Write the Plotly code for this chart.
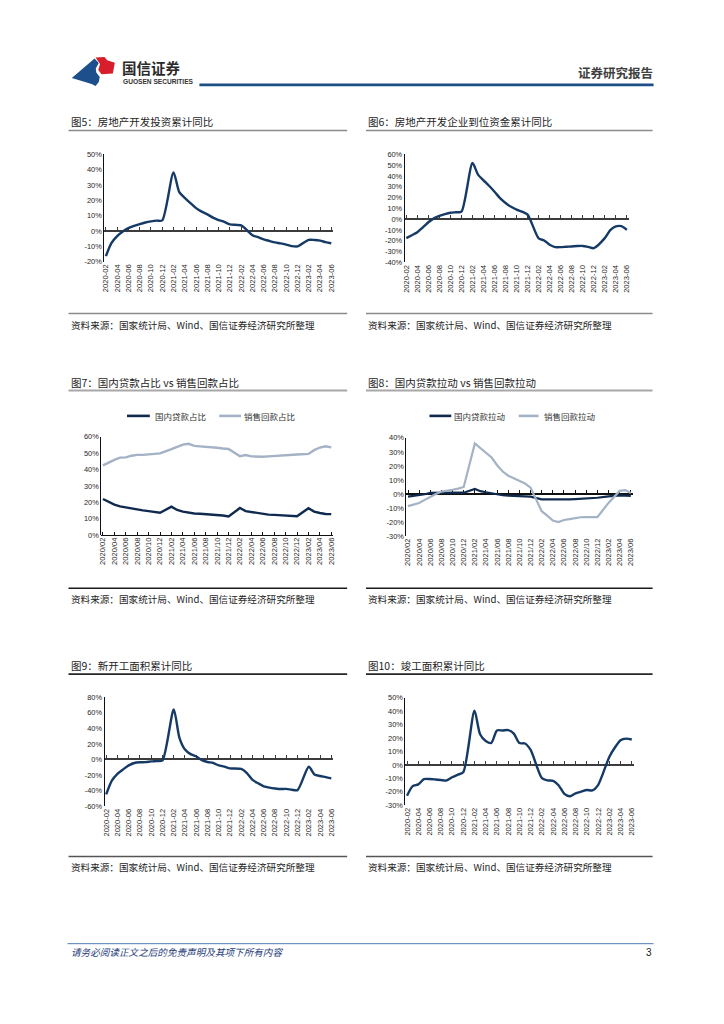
import plotly.graph_objects as go

# page offset: the browser page body has an 8px margin
OX, OY = 8, 8
W, H = 724, 1024
FW, FH = W - OX, H - OY
def fx(x): return (x - OX) / FW
def fy(y): return 1 - (y - OY) / FH

# ---------------- categories ----------------
months = []
for yr in range(2020, 2024):
    for m in range(1, 13):
        if (2020, 2) <= (yr, m) <= (2023, 6):
            months.append((yr, m))
idx = list(range(len(months)))
labels_dash = [f"{y}-{m:02d}" for y, m in months]
labels_slash = [f"{y}/{m:02d}" for y, m in months]
tick_idx = idx[::2]

# ---------------- series (None = January, not published) ----------------
inv_yoy = [-16.3, -7.7, -3.3, -0.3, 1.9, 3.4, 4.6, 5.6, 6.3, 6.8, 7.0, None,
           38.3, 25.6, 21.6, 18.3, 15.0, 12.7, 10.9, 8.8, 7.2, 6.0, 4.4, None,
           3.7, 0.7, -2.7, -4.0, -5.4, -6.4, -7.4, -8.0, -8.8, -9.8, -10.0, None,
           -5.7, -5.8, -6.2, -7.2, -7.9]
funds_yoy = [-17.5, -14.8, -12.0, -7.5, -2.8, 0.8, 3.2, 4.8, 6.0, 6.5, 7.0, None,
             52.0, 41.3, 36.0, 31.0, 25.5, 19.5, 15.0, 11.5, 9.0, 7.0, 4.3, None,
             -17.7, -19.6, -23.6, -25.8, -25.8, -25.5, -25.2, -24.8, -24.7, -25.6, -26.8, None,
             -17.5, -10.0, -6.6, -6.4, -9.8]
loan_share = [22.0, 20.2, 18.6, 17.5, 16.8, 16.2, 15.6, 15.1, 14.6, 14.1, 13.6, None,
              17.3, 15.3, 14.3, 13.6, 13.2, 13.0, 12.8, 12.6, 12.3, 11.9, 11.4, None,
              16.5, 14.6, 14.0, 13.3, 12.8, 12.5, 12.3, 12.1, 11.9, 11.7, 11.5, None,
              16.4, 14.3, 13.5, 12.9, 12.8]
sales_share = [42.6, 44.5, 46.0, 47.3, 47.5, 48.5, 49.0, 49.0, 49.2, 49.3, 49.9, None,
               52.5, 53.8, 55.3, 55.8, 54.5, 54.2, 54.0, 53.6, 53.4, 52.9, 52.6, None,
               48.2, 48.9, 48.1, 47.9, 47.9, 48.1, 48.4, 48.7, 48.9, 49.0, 49.2, None,
               49.6, 51.9, 53.5, 54.3, 53.6]
loan_pull = [-1.9, -1.4, -1.0, -0.2, 0.8, 0.9, 0.9, 0.9, 0.9, 0.9, 0.9, None,
             3.6, 2.0, 1.2, 0.5, -0.4, -0.9, -1.2, -1.4, -1.6, -1.7, -1.9, None,
             -3.9, -4.0, -4.0, -4.1, -4.0, -3.9, -3.7, -3.5, -3.3, -3.0, -2.7, None,
             -1.7, -1.2, -1.0, -1.2, -1.4]
sales_pull = [-8.7, -7.8, -6.4, -4.2, -2.0, 0.0, 1.7, 2.6, 3.0, 3.8, 5.0, None,
              36.0, 32.5, 29.5, 26.0, 20.5, 16.0, 13.0, 11.0, 9.5, 7.5, 4.5, None,
              -12.3, -15.5, -19.0, -20.0, -18.6, -18.0, -17.2, -16.6, -16.5, -16.5, -16.5, None,
              -6.4, -2.0, 2.2, 2.8, 0.7]
newstart_yoy = [-44.9, -27.2, -18.4, -12.8, -7.6, -4.5, -3.6, -3.4, -2.5, -2.0, -1.2, None,
                64.3, 28.2, 12.8, 6.9, 3.8, -0.9, -3.2, -4.5, -7.7, -9.1, -11.4, None,
                -12.2, -17.5, -26.3, -30.6, -34.4, -36.1, -37.2, -38.0, -37.8, -38.9, -39.4, None,
                -9.4, -19.2, -21.2, -22.6, -24.3]
complete_yoy = [-22.9, -15.8, -14.5, -10.6, -10.5, -10.8, -11.2, -11.6, -9.2, -7.3, -5.5, None,
                40.4, 22.9, 17.9, 16.4, 25.7, 25.7, 26.0, 23.4, 16.3, 16.0, 11.2, None,
                -9.8, -11.5, -11.9, -15.3, -21.5, -23.3, -21.1, -19.9, -18.7, -19.0, -15.0, None,
                6.0, 13.0, 18.4, 19.6, 19.0]

NAVY = "#163a66"
DARK = "#0f2a4e"
LIGHT = "#a3b2c4"

CJK = "Noto Sans CJK SC"
LAT = "Liberation Sans"
SRC = "资料来源：国家统计局、Wind、国信证券经济研究所整理"

charts = [
    dict(title="图5：房地产开发投资累计同比", col=0, row=0, box=(102, 333, 151.7, 260), yr=(-20, 50, 10),
         labels=labels_dash, series=[("房地产开发投资累计同比", inv_yoy, NAVY, 2.4, "spline")],
         zc="#3c3c3c", zw=2),
    dict(title="图6：房地产开发企业到位资金累计同比", col=1, row=0, box=(405, 631, 151.7, 260.7), yr=(-40, 60, 10),
         labels=labels_dash, series=[("到位资金累计同比", funds_yoy, NAVY, 2.4, "spline")],
         zc="#3c3c3c", zw=2),
    dict(title="图7：国内贷款占比 vs 销售回款占比", col=0, row=1, box=(99, 333, 436.7, 535.7), yr=(0, 60, 10),
         labels=labels_slash, series=[("国内贷款占比", loan_share, DARK, 2.4, "linear"),
                                      ("销售回款占比", sales_share, LIGHT, 2.4, "linear")],
         zc="#111111", zw=1.2,
         legend=[(125, 148, 153), (218, 240, 243)]),
    dict(title="图8：国内贷款拉动 vs 销售回款拉动", col=1, row=1, box=(406.7, 635, 437.7, 536.7), yr=(-30, 40, 10),
         labels=labels_slash, series=[("国内贷款拉动", loan_pull, DARK, 2.2, "linear"),
                                      ("销售回款拉动", sales_pull, LIGHT, 2.2, "linear")],
         zc="#111111", zw=1.5,
         legend=[(430, 452, 455), (520, 540, 545)]),
    dict(title="图9：新开工面积累计同比", col=0, row=2, box=(102.3, 333, 699.3, 809.3), yr=(-60, 80, 20),
         labels=labels_dash, series=[("新开工面积累计同比", newstart_yoy, NAVY, 2.4, "spline")],
         zc="#3c3c3c", zw=2),
    dict(title="图10：竣工面积累计同比", col=1, row=2, box=(405.7, 636, 700, 808.3), yr=(-30, 50, 10),
         labels=labels_dash, series=[("竣工面积累计同比", complete_yoy, NAVY, 2.4, "spline")],
         zc="#3c3c3c", zw=2),
]

col_x = [(68, 347), (368, 655)]
rows = [
    dict(title=118, uline=127.5, ucol="#8c8c8c", uw=1.6, legend=None, sline=312.3, scol="#8c8c8c", text=324),
    dict(title=381.5, uline=390, ucol="#a8a8a8", uw=2.0, legend=415.5, sline=589.3, scol="#1a1a1a", text=600.5),
    dict(title=667.7, uline=676, ucol="#262626", uw=1.6, legend=None, sline=860, scol="#555555", text=871),
]

PAD = 2  # annotation box padding

fig = go.Figure()
layout = dict(width=FW, height=FH, margin=dict(l=0, r=0, t=0, b=0), autosize=False,
              paper_bgcolor="white", plot_bgcolor="rgba(0,0,0,0)", showlegend=False,
              font=dict(family=LAT, color="#222"))
shapes, annots = [], []
xr = [-0.3, 40.35]

def note(text, x, y, size, color, family=CJK, anchor="left"):
    xx = x - PAD if anchor == "left" else x + PAD
    annots.append(dict(text=text, x=fx(xx), y=fy(y), xref="paper", yref="paper",
                       xanchor=anchor, yanchor="middle", showarrow=False,
                       font=dict(family=family, size=size, color=color)))

def hline(x0, x1, y, color, width):
    shapes.append(dict(type="line", xref="paper", yref="paper", x0=fx(x0), x1=fx(x1),
                       y0=fy(y), y1=fy(y), line=dict(color=color, width=width)))

for k, c in enumerate(charts, start=1):
    l, r, t, b = c["box"]
    ymin, ymax, dy = c["yr"]
    y0px = t + (ymax - 0) / (ymax - ymin) * (b - t)
    yt = list(range(ymin, ymax + 1, dy))
    layout[f"xaxis{k}"] = dict(domain=[fx(l), fx(r)], anchor=f"y{k}", range=xr,
                               tickmode="array", tickvals=tick_idx,
                               ticktext=[c["labels"][i] for i in tick_idx],
                               tickangle=-90, showline=False, ticks="", showgrid=False,
                               zeroline=False, tickfont=dict(family=LAT, size=7.6, color="#1e1e1e"))
    layout[f"xaxis{k+6}"] = dict(overlaying=f"x{k}", anchor="free", position=fy(y0px), range=xr,
                                 tickmode="array", tickvals=tick_idx, ticks="inside", ticklen=3,
                                 tickwidth=1, tickcolor=c["zc"], showline=True, linecolor=c["zc"],
                                 linewidth=c["zw"], showticklabels=False, showgrid=False,
                                 zeroline=False, layer="below traces")
    layout[f"yaxis{k}"] = dict(domain=[fy(b), fy(t)], anchor=f"x{k}", range=[ymin, ymax],
                               tickmode="array", tickvals=yt, ticktext=[f"{v}%" for v in yt],
                               showline=True, linecolor="#111", linewidth=1, ticks="",
                               showgrid=False, zeroline=False,
                               tickfont=dict(family=LAT, size=7.4, color="#1e1e1e"))
    fig.add_trace(go.Scatter(x=[None], y=[None], xaxis=f"x{k}", yaxis=f"y{k}",
                             showlegend=False, hoverinfo="skip"))
    for name, vals, color, w, shape in c["series"]:
        line = dict(color=color, width=w, shape=shape)
        if shape == "spline":
            line["smoothing"] = 0.7
        fig.add_trace(go.Scatter(x=idx, y=vals, mode="lines", name=name, line=line,
                                 connectgaps=True, xaxis=f"x{k+6}", yaxis=f"y{k}"))

    rw = rows[c["row"]]
    x0, x1 = col_x[c["col"]]
    note(c["title"], x0, rw["title"], 10.5, "#1e1e1e")
    hline(x0 - 2, x1, rw["uline"], rw["ucol"], rw["uw"])
    hline(x0 - 2, x1, rw["sline"], rw["scol"], 1.5)
    note(SRC, x0, rw["text"], 9.6, "#1e1e1e")
    if "legend" in c:
        ly = rw["legend"]
        for (lx0, lx1, tx), (name, vals, color, w, shape) in zip(c["legend"], c["series"]):
            hline(lx0, lx1, ly, color, 2.6)
            note(name, tx, ly, 8.5, "#333")

# ---------------- header ----------------
def path(pts):
    return "M " + " L ".join(f"{fx(x):.5f},{fy(y):.5f}" for x, y in pts) + " Z"

blue_pts = [(69.3, 74.5), (92.3, 55), (96.5, 59.5), (93.5, 65), (94.0, 69), (97.5, 73.5),
            (96.5, 78.5), (93.3, 82.7), (89.3, 80.7)]
red_pts = [(93.3, 54), (102.3, 53.3), (105, 56.7), (112.7, 59.3), (110.7, 70), (99.3, 70.7),
           (96.0, 66.5), (97.8, 60.5)]
shapes.append(dict(type="path", xref="paper", yref="paper", path=path(blue_pts),
                   fillcolor="#1d4f8c", line=dict(width=0)))
shapes.append(dict(type="path", xref="paper", yref="paper", path=path(red_pts),
                   fillcolor="#d81e2b", line=dict(width=0)))
note("<b>国信证券</b>", 120, 64.5, 14.5, "#2a2a2a")
note("<b>GUOSEN SECURITIES</b>", 120.5, 78, 6.6, "#333", family=LAT)
note("<b>证券研究报告</b>", 655, 69, 12.5, "#404040", anchor="right")
hline(198, 656, 81.5, "#1d4f86", 2.6)

# ---------------- footer ----------------
hline(65, 656, 948, "#4f7db3", 1)
note("<i>请务必阅读正文之后的免责声明及其项下所有内容</i>", 68, 956.5, 9.6, "#1f3d7a")
note("3", 654, 957, 10, "#222", family=LAT, anchor="right")

layout["shapes"] = shapes
layout["annotations"] = annots
fig.update_layout(**layout)
fig.write_html("out.html")
